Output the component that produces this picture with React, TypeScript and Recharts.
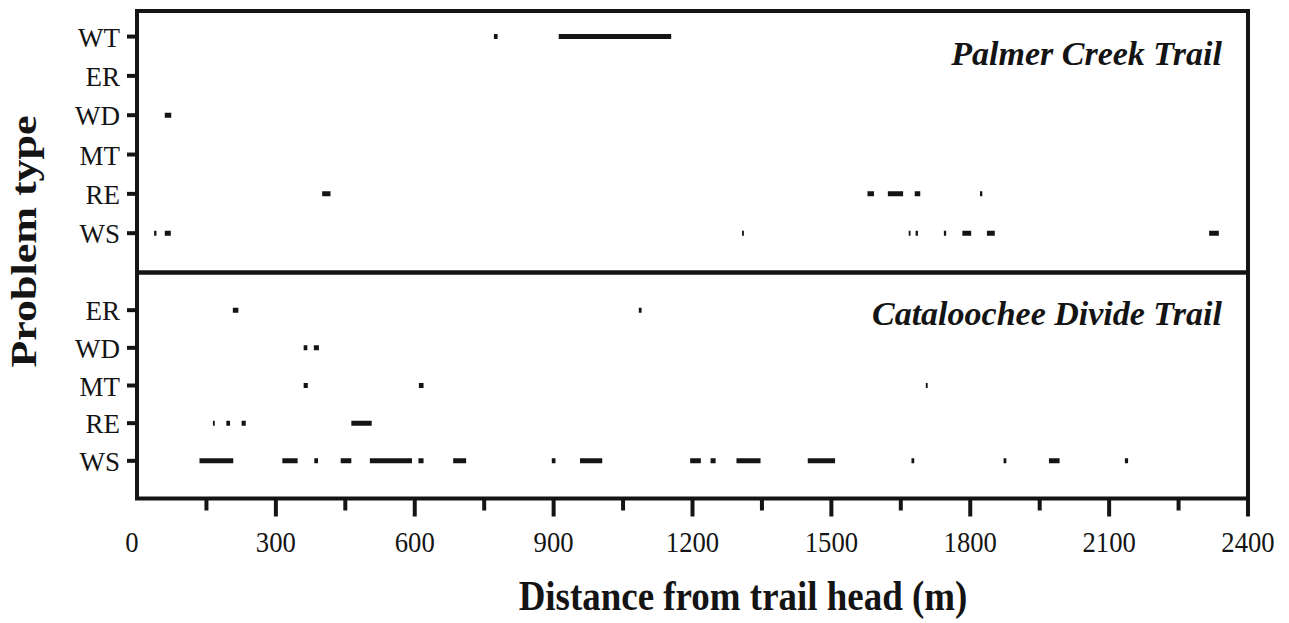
import React from "react";
import { LineChart, Line, XAxis, YAxis, ReferenceArea } from "recharts";

const W = 1289;
const H = 623;
const INK = "#141414";
const SERIF = '"Liberation Serif", "Times New Roman", serif';

const xTicks = [0, 150, 300, 450, 600, 750, 900, 1050, 1200, 1350, 1500, 1650, 1800, 1950, 2100, 2250, 2400];

const palmerTypes = ["WS", "RE", "MT", "WD", "ER", "WT"];
const cataloocheeTypes = ["WS", "RE", "MT", "WD", "ER"];

// problem stretches along the trail, [start m, end m]
const palmerWT = [[771, 779], [911, 1154]];
const palmerER: number[][] = [];
const palmerWD = [[60, 74]];
const palmerMT: number[][] = [];
const palmerRE = [[400, 418], [1578, 1592], [1622, 1655], [1680, 1692], [1821, 1826]];
const palmerWS = [
  [37, 42], [60, 73], [1307, 1311], [1667, 1671], [1682, 1687],
  [1743, 1748], [1783, 1802], [1836, 1853], [2316, 2337],
];

const cataER = [[207, 219], [1084, 1090]];
const cataWD = [[360, 368], [382, 393]];
const cataMT = [[360, 369], [609, 619], [1704, 1708]];
const cataRE = [[164, 168], [193, 201], [226, 235], [463, 507]];
const cataWS = [
  [135, 208], [314, 347], [383, 391], [440, 463], [503, 594], [608, 619],
  [683, 711], [896, 904], [957, 1005], [1195, 1218], [1239, 1250], [1295, 1347],
  [1449, 1508], [1673, 1679], [1872, 1878], [1970, 1993], [2134, 2141],
];

const palmerRows = [palmerWS, palmerRE, palmerMT, palmerWD, palmerER, palmerWT];
const cataRows = [cataWS, cataRE, cataMT, cataWD, cataER];

// one line per problem type, broken with nulls between stretches
const toLine = (segs: number[][], row: number) =>
  segs.flatMap(([a, b]) => [
    { x: a, y: row },
    { x: b, y: row },
    { x: b, y: null },
  ]);

const TOP_MAX = 6.65;
const BOT_MAX = 6;

const makeYTick = (labels: string[]) => (props: any) => {
  const { x, y, payload } = props;
  return (
    <text x={x} y={y} dy={10} textAnchor="end" fontSize={27} fontFamily={SERIF} fill={INK}>
      {labels[payload.value - 1]}
    </text>
  );
};

const XTick = (props: any) => {
  const { x, y, payload } = props;
  const v = payload.value;
  const major = v % 300 === 0;
  const axisY = y - 32;
  return (
    <g>
      {v > 0 && (
        <line x1={x} x2={x} y1={axisY} y2={axisY + (major ? 18 : 12)} stroke={INK} strokeWidth={4} />
      )}
      {major && (
        <text
          transform={`translate(${v === 0 ? x - 5 : x},${axisY + 53.5}) scale(0.92,1)`}
          textAnchor="middle"
          fontSize={29}
          fontFamily={SERIF}
          fill={INK}
        >
          {v}
        </text>
      )}
    </g>
  );
};

const panelTitle = (text: string, dy: number) => (props: any) => {
  const vb = props.viewBox;
  return (
    <text
      x={vb.x + vb.width - 26}
      y={vb.y + dy}
      textAnchor="end"
      fontSize={34}
      fontStyle="italic"
      fontWeight="bold"
      fontFamily={SERIF}
      fill={INK}
    >
      {text}
    </text>
  );
};

export default function App() {
  return (
    <div style={{ position: "absolute", left: 0, top: 0, width: W, height: H, background: "#fff" }}>
      <div style={{ position: "absolute", left: 0, top: 0 }}>
        <LineChart width={W} height={H} margin={{ top: 11, right: 41, bottom: H - 272.5, left: 0 }}>
          <XAxis dataKey="x" type="number" domain={[0, 2400]} allowDataOverflow hide />
          <YAxis
            type="number"
            domain={[0, TOP_MAX]}
            allowDataOverflow
            ticks={[1, 2, 3, 4, 5, 6]}
            width={137}
            axisLine={false}
            tickSize={10}
            tickMargin={7}
            tickLine={{ stroke: INK, strokeWidth: 4 }}
            tick={makeYTick(palmerTypes)}
            label={{
              content: () => (
                <text
                  transform="translate(36,241.5) scale(0.8,1) rotate(-90)"
                  textAnchor="middle"
                  fontSize={44}
                  fontWeight="bold"
                  fontFamily={SERIF}
                  fill={INK}
                >
                  Problem type
                </text>
              ),
            }}
          />
          <ReferenceArea
            x1={0}
            x2={2400}
            y1={0}
            y2={TOP_MAX}
            fill="none"
            stroke={INK}
            strokeWidth={4}
            ifOverflow="visible"
            label={{ content: panelTitle("Palmer Creek Trail", 54) }}
          />
          {palmerRows.map((segs, i) =>
            segs.length ? (
              <Line
                key={palmerTypes[i]}
                data={toLine(segs, i + 1)}
                dataKey="y"
                stroke={INK}
                strokeWidth={5}
                dot={false}
                activeDot={false}
                connectNulls={false}
                isAnimationActive={false}
              />
            ) : null
          )}
        </LineChart>
      </div>
      <div style={{ position: "absolute", left: 0, top: 0 }}>
        <LineChart width={W} height={H} margin={{ top: 272.5, right: 41, bottom: 0, left: 0 }}>
          <XAxis
            dataKey="x"
            type="number"
            domain={[0, 2400]}
            allowDataOverflow
            ticks={xTicks}
            interval={0}
            height={124.5}
            axisLine={false}
            tickLine={false}
            tickSize={18}
            tickMargin={14}
            tick={<XTick />}
            label={{
              content: () => (
                <text
                  transform="translate(743,610) scale(0.88,1)"
                  textAnchor="middle"
                  fontSize={42}
                  fontWeight="bold"
                  fontFamily={SERIF}
                  fill={INK}
                >
                  Distance from trail head (m)
                </text>
              ),
            }}
          />
          <YAxis
            type="number"
            domain={[0, BOT_MAX]}
            allowDataOverflow
            ticks={[1, 2, 3, 4, 5]}
            width={137}
            axisLine={false}
            tickSize={10}
            tickMargin={7}
            tickLine={{ stroke: INK, strokeWidth: 4 }}
            tick={makeYTick(cataloocheeTypes)}
          />
          <ReferenceArea
            x1={0}
            x2={2400}
            y1={0}
            y2={BOT_MAX}
            fill="none"
            stroke={INK}
            strokeWidth={4}
            ifOverflow="visible"
            label={{ content: panelTitle("Cataloochee Divide Trail", 52.5) }}
          />
          {cataRows.map((segs, i) =>
            segs.length ? (
              <Line
                key={cataloocheeTypes[i]}
                data={toLine(segs, i + 1)}
                dataKey="y"
                stroke={INK}
                strokeWidth={5}
                dot={false}
                activeDot={false}
                connectNulls={false}
                isAnimationActive={false}
              />
            ) : null
          )}
        </LineChart>
      </div>
    </div>
  );
}
